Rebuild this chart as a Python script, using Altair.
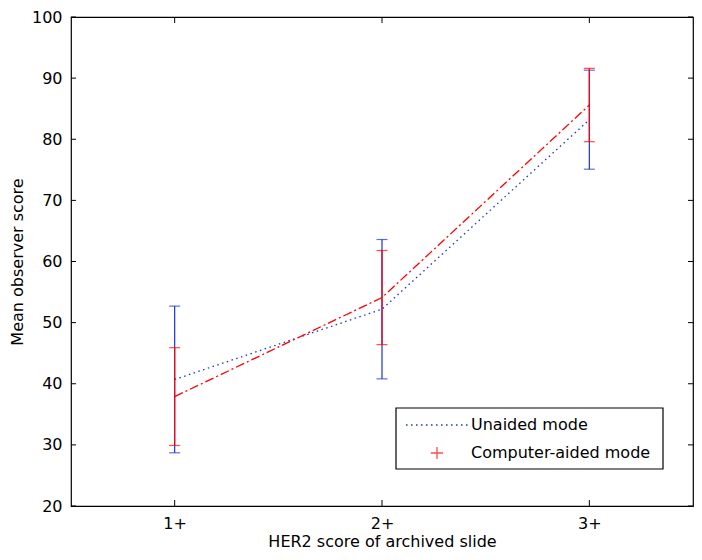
import altair as alt
import pandas as pd

# ---- data ----
levels = [1, 2, 3]
level_labels = ["1+", "2+", "3+"]
unaided_mean = [40.7, 52.2, 83.2]
unaided_err = [12.0, 11.4, 8.1]
aided_mean = [37.9, 54.1, 85.6]
aided_err = [8.0, 7.7, 6.0]
y_ticks = [20, 30, 40, 50, 60, 70, 80, 90, 100]
series_names = ["Unaided mode", "Computer-aided mode"]

BLUE = "#1a33c8"
RED = "#ff0000"
FONT = "DejaVu Sans"
W, H = 622, 489
PL = 63
PT = 9

rows = []
for name, means, errs in [(series_names[0], unaided_mean, unaided_err),
                          (series_names[1], aided_mean, aided_err)]:
    for lv, m, e in zip(levels, means, errs):
        rows.append({"series": name, "level": lv, "mean": m, "lo": m - e, "hi": m + e})
df = pd.DataFrame(rows)
df_u = df[df.series == series_names[0]]
df_a = df[df.series == series_names[1]]

xs = alt.Scale(domain=[0.5, 3.5], nice=False, zero=False)
ys = alt.Scale(domain=[20, 100], nice=False, zero=False)

label_expr = "[" + ",".join("'%s'" % s for s in level_labels) + "][datum.value - 1]"

x_axis = alt.Axis(values=levels, labelExpr=label_expr, title="HER2 score of archived slide",
                  grid=False, domain=False, ticks=False, labelPadding=9, titlePadding=2,
                  labelFontSize=16, titleFontSize=16, labelFont=FONT, titleFont=FONT,
                  labelColor="black", titleColor="black", titleFontWeight="normal")
y_axis = alt.Axis(values=y_ticks, title="Mean observer score", grid=False, domain=False,
                  ticks=False, labelPadding=9, titlePadding=6, labelFontSize=16,
                  titleFontSize=16, labelFont=FONT, titleFont=FONT, labelColor="black",
                  titleColor="black", titleFontWeight="normal")


def series_layers(d, color, dash):
    base = alt.Chart(d)
    bars = base.mark_rule(color=color, strokeWidth=1.2).encode(
        x=alt.X("level:Q", scale=xs, axis=x_axis),
        y=alt.Y("lo:Q", scale=ys, axis=y_axis),
        y2="hi:Q",
    )
    cap_lo = base.mark_tick(color=color, orient="horizontal", size=11, thickness=1.2).encode(
        x=alt.X("level:Q", scale=xs), y=alt.Y("lo:Q", scale=ys))
    cap_hi = base.mark_tick(color=color, orient="horizontal", size=11, thickness=1.2).encode(
        x=alt.X("level:Q", scale=xs), y=alt.Y("hi:Q", scale=ys))
    line = base.mark_line(color=color, strokeDash=dash, strokeWidth=1.3).encode(
        x=alt.X("level:Q", scale=xs), y=alt.Y("mean:Q", scale=ys))
    return [bars, cap_lo, cap_hi, line]


layers = series_layers(df_u, BLUE, [1.5, 3.5]) + series_layers(df_a, RED, [9, 3, 2, 3])

# inward ticks on all four sides
yt = pd.DataFrame({"v": y_ticks})
xt = pd.DataFrame({"v": levels})
tick_l = alt.Chart(yt).mark_rule(color="black").encode(
    y=alt.Y("v:Q", scale=ys), x=alt.value(0), x2=alt.value(5))
tick_r = alt.Chart(yt).mark_rule(color="black").encode(
    y=alt.Y("v:Q", scale=ys), x=alt.value(W - 5), x2=alt.value(W))
tick_b = alt.Chart(xt).mark_rule(color="black").encode(
    x=alt.X("v:Q", scale=xs), y=alt.value(H - 6), y2=alt.value(H))
tick_t = alt.Chart(xt).mark_rule(color="black").encode(
    x=alt.X("v:Q", scale=xs), y=alt.value(0), y2=alt.value(6))

# legend box (pixel offsets inside the plot area)
ox = 72 - 8 - PL
oy = 13 - 8 - PT
leg = pd.DataFrame({"label": series_names})
leg_box = alt.Chart(leg.head(1)).mark_rect(fill="white", stroke="black", strokeWidth=1.2).encode(
    x=alt.value(324 + ox), x2=alt.value(591 + ox), y=alt.value(395 + oy), y2=alt.value(456 + oy))
leg_line = alt.Chart(leg.head(1)).mark_rule(color=BLUE, strokeDash=[1.5, 3.5], strokeWidth=1.3).encode(
    x=alt.value(334 + ox), x2=alt.value(396 + ox), y=alt.value(412 + oy))
leg_plus = alt.Chart(leg.tail(1)).mark_point(
    shape="M-1,0L1,0M0,-1L0,1", size=150, color=RED, filled=False, strokeWidth=1.3).encode(
    x=alt.value(365 + ox), y=alt.value(440 + oy))
leg_t1 = alt.Chart(leg.head(1)).mark_text(align="left", baseline="middle", font=FONT,
                                           fontSize=16, color="black").encode(
    x=alt.value(399 + ox), y=alt.value(412 + oy), text="label:N")
leg_t2 = alt.Chart(leg.tail(1)).mark_text(align="left", baseline="middle", font=FONT,
                                           fontSize=16, color="black").encode(
    x=alt.value(399 + ox), y=alt.value(440 + oy), text="label:N")

chart = alt.layer(
    *layers, tick_l, tick_r, tick_b, tick_t,
    leg_box, leg_line, leg_plus, leg_t1, leg_t2
).properties(
    width=W, height=H,
    autosize=alt.AutoSizeParams(type="none"),
    padding={"left": PL, "top": PT, "right": 1, "bottom": 44},
    background="white",
).configure_view(stroke="black", strokeWidth=1.2)

chart.save("out.html", embed_options={"renderer": "svg", "actions": False})
